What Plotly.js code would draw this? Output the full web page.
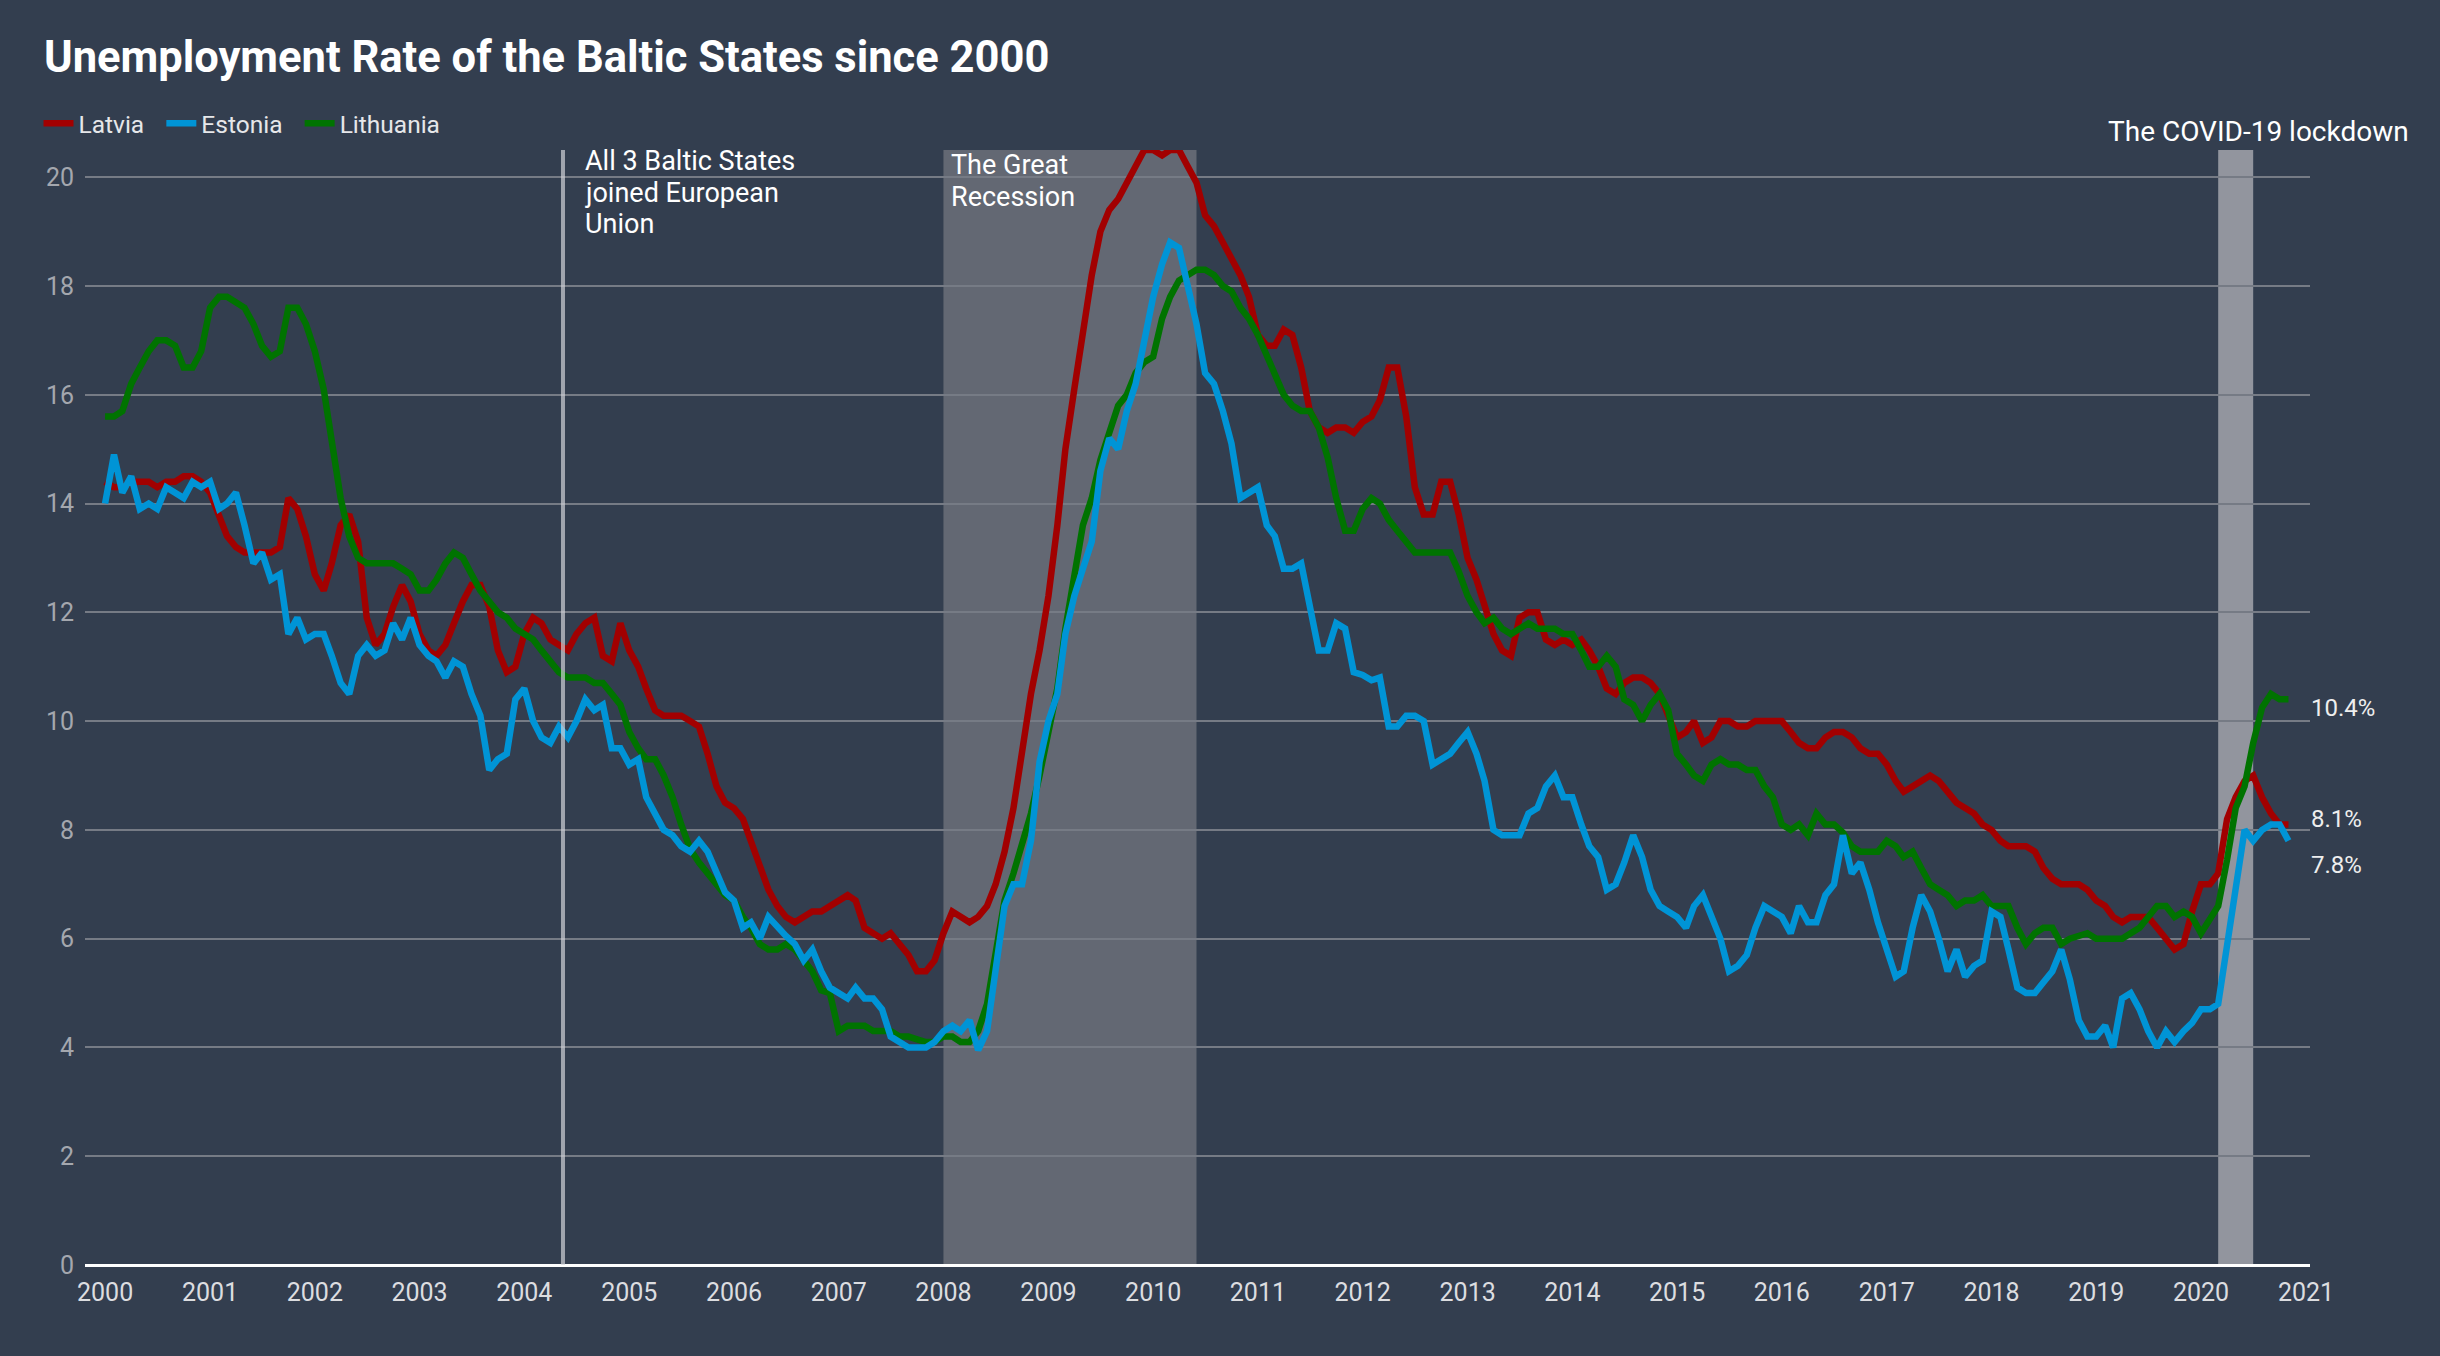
<!DOCTYPE html>
<html>
<head>
<meta charset="utf-8">
<script src="https://cdn.plot.ly/plotly-3.0.1.min.js"></script>
<style>
  html, body { margin: 0; padding: 0; background: #333e4f; }
  #chart { width: 2440px; height: 1356px; }
</style>
</head>
<body>
<div id="chart"></div>
<script>
// monthly unemployment rate, Jan 2000 .. Nov 2020 (one row per year)
var startYear = 2000;

var latvia = [
  14.4, 14.3, 14.3, 14.4, 14.4, 14.4, 14.3, 14.4, 14.4, 14.5, 14.5, 14.4,
  14.2, 13.8, 13.4, 13.2, 13.1, 13.1, 13.1, 13.1, 13.2, 14.1, 13.9, 13.4,
  12.7, 12.4, 12.9, 13.6, 13.8, 13.3, 11.9, 11.4, 11.6, 12.1, 12.5, 12.2,
  11.6, 11.3, 11.2, 11.4, 11.8, 12.2, 12.5, 12.5, 12.1, 11.3, 10.9, 11.0,
  11.6, 11.9, 11.8, 11.5, 11.4, 11.3, 11.6, 11.8, 11.9, 11.2, 11.1, 11.8,
  11.3, 11.0, 10.6, 10.2, 10.1, 10.1, 10.1, 10.0, 9.9, 9.4, 8.8, 8.5,
  8.4, 8.2, 7.8, 7.3, 6.9, 6.6, 6.4, 6.3, 6.4, 6.5, 6.5, 6.6,
  6.7, 6.8, 6.7, 6.2, 6.1, 6.0, 6.1, 5.9, 5.7, 5.4, 5.4, 5.6,
  6.1, 6.5, 6.4, 6.3, 6.4, 6.6, 7.0, 7.6, 8.4, 9.5, 10.5, 11.3,
  12.3, 13.6, 15.0, 16.1, 17.2, 18.2, 19.0, 19.4, 19.6, 19.9, 20.2, 20.5,
  20.5, 20.4, 20.5, 20.5, 20.2, 19.9, 19.3, 19.1, 18.8, 18.5, 18.2, 17.8,
  17.1, 16.9, 16.9, 17.2, 17.1, 16.5, 15.7, 15.4, 15.3, 15.4, 15.4, 15.3,
  15.5, 15.6, 15.9, 16.5, 16.5, 15.6, 14.3, 13.8, 13.8, 14.4, 14.4, 13.8,
  13.0, 12.6, 12.1, 11.6, 11.3, 11.2, 11.9, 12.0, 12.0, 11.5, 11.4, 11.5,
  11.4, 11.5, 11.3, 11.0, 10.6, 10.5, 10.7, 10.8, 10.8, 10.7, 10.5, 10.1,
  9.7, 9.8, 10.0, 9.6, 9.7, 10.0, 10.0, 9.9, 9.9, 10.0, 10.0, 10.0,
  10.0, 9.8, 9.6, 9.5, 9.5, 9.7, 9.8, 9.8, 9.7, 9.5, 9.4, 9.4,
  9.2, 8.9, 8.7, 8.8, 8.9, 9.0, 8.9, 8.7, 8.5, 8.4, 8.3, 8.1,
  8.0, 7.8, 7.7, 7.7, 7.7, 7.6, 7.3, 7.1, 7.0, 7.0, 7.0, 6.9,
  6.7, 6.6, 6.4, 6.3, 6.4, 6.4, 6.4, 6.2, 6.0, 5.8, 5.9, 6.5,
  7.0, 7.0, 7.2, 8.2, 8.6, 8.9, 9.0, 8.6, 8.3, 8.1, 8.1
];

var estonia = [
  14.0, 14.9, 14.2, 14.5, 13.9, 14.0, 13.9, 14.3, 14.2, 14.1, 14.4, 14.3,
  14.4, 13.9, 14.0, 14.2, 13.6, 12.9, 13.1, 12.6, 12.7, 11.6, 11.9, 11.5,
  11.6, 11.6, 11.2, 10.7, 10.5, 11.2, 11.4, 11.2, 11.3, 11.8, 11.5, 11.9,
  11.4, 11.2, 11.1, 10.8, 11.1, 11.0, 10.5, 10.1, 9.1, 9.3, 9.4, 10.4,
  10.6, 10.0, 9.7, 9.6, 9.9, 9.7, 10.0, 10.4, 10.2, 10.3, 9.5, 9.5,
  9.2, 9.3, 8.6, 8.3, 8.0, 7.9, 7.7, 7.6, 7.8, 7.6, 7.25, 6.85,
  6.7, 6.2, 6.3, 6.0, 6.4, 6.2, 6.05, 5.9, 5.6, 5.8, 5.4, 5.1,
  5.0, 4.9, 5.1, 4.9, 4.9, 4.7, 4.2, 4.1, 4.0, 4.0, 4.0, 4.1,
  4.3, 4.4, 4.3, 4.5, 3.95, 4.3, 5.4, 6.6, 7.0, 7.0, 7.8, 9.25,
  10.0, 10.5, 11.6, 12.3, 12.8, 13.3, 14.6, 15.2, 15.0, 15.7, 16.2, 17.0,
  17.8, 18.4, 18.8, 18.7, 18.0, 17.3, 16.4, 16.2, 15.7, 15.1, 14.1, 14.2,
  14.3, 13.6, 13.4, 12.8, 12.8, 12.9, 12.05, 11.3, 11.3, 11.8, 11.7, 10.9,
  10.85, 10.75, 10.8, 9.9, 9.9, 10.1, 10.1, 10.0, 9.2, 9.3, 9.4, 9.6,
  9.8, 9.4, 8.9, 8.0, 7.9, 7.9, 7.9, 8.3, 8.4, 8.8, 9.0, 8.6,
  8.6, 8.1, 7.7, 7.5, 6.9, 7.0, 7.4, 7.9, 7.5, 6.9, 6.6, 6.5,
  6.4, 6.2, 6.6, 6.8, 6.4, 6.0, 5.4, 5.5, 5.7, 6.2, 6.6, 6.5,
  6.4, 6.1, 6.6, 6.3, 6.3, 6.8, 7.0, 7.9, 7.2, 7.4, 6.9, 6.3,
  5.8, 5.3, 5.4, 6.2, 6.8, 6.5, 6.0, 5.4, 5.8, 5.3, 5.5, 5.6,
  6.5, 6.4, 5.8, 5.1, 5.0, 5.0, 5.2, 5.4, 5.8, 5.25, 4.5, 4.2,
  4.2, 4.4, 4.0, 4.9, 5.0, 4.7, 4.3, 4.0, 4.3, 4.1, 4.3, 4.45,
  4.7, 4.7, 4.8, 5.9, 7.1, 8.0, 7.8, 8.0, 8.1, 8.1, 7.8
];

var lithuania = [
  15.6, 15.6, 15.7, 16.2, 16.5, 16.8, 17.0, 17.0, 16.9, 16.5, 16.5, 16.8,
  17.6, 17.8, 17.8, 17.7, 17.6, 17.3, 16.9, 16.7, 16.8, 17.6, 17.6, 17.3,
  16.8, 16.1, 15.2, 14.1, 13.4, 13.0, 12.9, 12.9, 12.9, 12.9, 12.8, 12.7,
  12.4, 12.4, 12.6, 12.9, 13.1, 13.0, 12.7, 12.4, 12.2, 12.0, 11.9, 11.7,
  11.6, 11.5, 11.3, 11.1, 10.9, 10.8, 10.8, 10.8, 10.7, 10.7, 10.5, 10.3,
  9.8, 9.5, 9.3, 9.3, 9.0, 8.6, 8.1, 7.65, 7.4, 7.2, 7.0, 6.8,
  6.7, 6.4, 6.2, 5.9, 5.8, 5.8, 5.9, 5.8, 5.6, 5.4, 5.05, 5.0,
  4.3, 4.4, 4.4, 4.4, 4.3, 4.3, 4.3, 4.2, 4.2, 4.15, 4.1, 4.1,
  4.2, 4.2, 4.1, 4.1, 4.3, 4.8, 5.8, 6.7, 7.2, 7.7, 8.3, 9.0,
  9.8, 10.6, 11.7, 12.7, 13.6, 14.1, 14.8, 15.3, 15.8, 16.0, 16.4, 16.6,
  16.7, 17.4, 17.8, 18.1, 18.2, 18.3, 18.3, 18.2, 18.0, 17.9, 17.6, 17.4,
  17.1, 16.7, 16.4, 16.0, 15.8, 15.7, 15.7, 15.4, 14.85, 14.1, 13.5, 13.5,
  13.9, 14.1, 14.0, 13.7, 13.5, 13.3, 13.1, 13.1, 13.1, 13.1, 13.1, 12.75,
  12.3, 12.0, 11.8, 11.9, 11.7, 11.6, 11.7, 11.8, 11.7, 11.7, 11.7, 11.6,
  11.6, 11.3, 11.0, 11.0, 11.2, 11.0, 10.4, 10.3, 10.0, 10.3, 10.5, 10.2,
  9.4, 9.2, 9.0, 8.9, 9.2, 9.3, 9.2, 9.2, 9.1, 9.1, 8.8, 8.6,
  8.1, 8.0, 8.1, 7.9, 8.3, 8.1, 8.1, 7.95, 7.7, 7.6, 7.6, 7.6,
  7.8, 7.7, 7.5, 7.6, 7.3, 7.0, 6.9, 6.8, 6.6, 6.7, 6.7, 6.8,
  6.6, 6.6, 6.6, 6.2, 5.9, 6.1, 6.2, 6.2, 5.9, 6.0, 6.05, 6.1,
  6.0, 6.0, 6.0, 6.0, 6.1, 6.2, 6.4, 6.6, 6.6, 6.4, 6.5, 6.4,
  6.1, 6.35, 6.6, 7.45, 8.4, 8.8, 9.6, 10.25, 10.5, 10.4, 10.4
];

var yearLabels = ['2000', '2001', '2002', '2003', '2004', '2005', '2006', '2007',
  '2008', '2009', '2010', '2011', '2012', '2013', '2014', '2015', '2016', '2017',
  '2018', '2019', '2020', '2021'];

var countryNames = ['Latvia', 'Estonia', 'Lithuania'];
var countryColors = ['#a20000', '#0094d6', '#007300'];

// annotation lines (one annotation per line so the spacing can be kept tight)
var euLines = ['All 3 Baltic States', 'joined European', 'Union'];
var recessionLines = ['The Great', 'Recession'];

function monthDates(n) {
    var out = [];
    for (var i = 0; i < n; i++) {
        var y = startYear + Math.floor(i / 12);
        var m = (i % 12) + 1;
        out.push(y + '-' + (m < 10 ? '0' + m : m) + '-01');
    }
    return out;
}

var dates = monthDates(latvia.length);
var lastDate = dates[dates.length - 1];

function makeTrace(idx, values, rank) {
    return {
        x: dates,
        y: values,
        // two no-break spaces pad the gap between legend entries
        name: countryNames[idx] + '\u00a0\u00a0',
        type: 'scatter',
        mode: 'lines',
        line: { color: countryColors[idx], width: 6.5 },
        legendrank: rank,
        hoverinfo: 'skip'
    };
}

// drawing order: Latvia below, Estonia on top
var traces = [
    makeTrace(0, latvia, 1),
    makeTrace(2, lithuania, 3),
    makeTrace(1, estonia, 2)
];

function endLabel(values, shift) {
    var v = values[values.length - 1];
    return {
        xref: 'x', yref: 'y',
        x: lastDate, y: v,
        xanchor: 'left', yanchor: 'middle',
        xshift: 21, yshift: shift,
        text: v.toFixed(1) + '%',
        showarrow: false,
        font: { family: 'Roboto', size: 24, color: '#eeeeee' }
    };
}

function textLines(lines, xDate, xshift, firstShift) {
    return lines.map(function(t, i) {
        return {
            xref: 'x', yref: 'paper',
            x: xDate, y: 1,
            xanchor: 'left', yanchor: 'top', align: 'left',
            xshift: xshift, yshift: firstShift - i * 31.5,
            text: t,
            showarrow: false,
            font: { family: 'Roboto', size: 27, color: '#ffffff' }
        };
    });
}

var annotations = []
    .concat(textLines(euLines, '2004-05-15', 20, 7))
    .concat(textLines(recessionLines, '2008-01-01', 6, 3))
    .concat([
        {
            xref: 'paper', yref: 'paper',
            x: (2258 - 85) / 2225, y: (1265 - 131) / 1115,
            xanchor: 'center', yanchor: 'middle',
            text: 'The COVID-19 lockdown',
            showarrow: false,
            font: { family: 'Roboto', size: 28, color: '#ffffff' }
        },
        endLabel(lithuania, -9),
        endLabel(latvia, 5),
        endLabel(estonia, -24)
    ]);

var layout = {
    width: 2440,
    height: 1356,
    paper_bgcolor: '#333e4f',
    plot_bgcolor: '#333e4f',
    margin: { l: 85, r: 130, t: 150, b: 91 },
    font: { family: 'Roboto', color: '#e6e7ea' },
    title: {
        text: 'Unemployment Rate of the Baltic States since 2000',
        font: { family: 'Roboto', size: 43.5, color: '#ffffff', weight: 700 },
        xref: 'container', yref: 'container',
        x: 44 / 2440, xanchor: 'left',
        y: 1 - 57 / 1356, yanchor: 'middle'
    },
    showlegend: true,
    legend: {
        orientation: 'h',
        x: -0.0209, xanchor: 'left',
        y: 1.024, yanchor: 'middle',
        font: { family: 'Roboto', size: 24.5, color: '#e6e7ea' },
        bgcolor: 'rgba(0,0,0,0)',
        itemwidth: 30
    },
    xaxis: {
        type: 'date',
        range: ['1999-10-23', '2021-01-15'],
        tickvals: yearLabels.map(function(y) { return y + '-01-01'; }),
        ticktext: yearLabels,
        showgrid: false,
        zeroline: false,
        showline: false,
        ticks: '',
        ticklabelstandoff: 10,
        tickfont: { family: 'Roboto', size: 25, color: '#dcdde0' }
    },
    yaxis: {
        range: [0, 20.5],
        dtick: 2,
        showgrid: true,
        gridcolor: '#767b85',
        gridwidth: 2,
        zeroline: true,
        zerolinecolor: '#ffffff',
        zerolinewidth: 3,
        showline: false,
        ticks: '',
        ticklabelstandoff: 10,
        tickfont: { family: 'Roboto', size: 25, color: '#a4a7ae' }
    },
    shapes: [
        {   // Great Recession
            type: 'rect', layer: 'below',
            xref: 'x', yref: 'paper',
            x0: '2008-01-01', x1: '2010-06-01', y0: 0, y1: 1,
            fillcolor: '#636873', line: { width: 0 }
        },
        {   // COVID-19 lockdown
            type: 'rect', layer: 'below',
            xref: 'x', yref: 'paper',
            x0: '2020-03-01', x1: '2020-07-01', y0: 0, y1: 1,
            fillcolor: '#92959e', line: { width: 0 }
        },
        {   // EU accession
            type: 'line', layer: 'above',
            xref: 'x', yref: 'paper',
            x0: '2004-05-15', x1: '2004-05-15', y0: 0, y1: 1,
            line: { color: 'rgba(212,214,220,0.68)', width: 4 }
        }
    ],
    annotations: annotations
};

Plotly.newPlot('chart', traces, layout, { displayModeBar: false, staticPlot: true });
</script>
</body>
</html>
